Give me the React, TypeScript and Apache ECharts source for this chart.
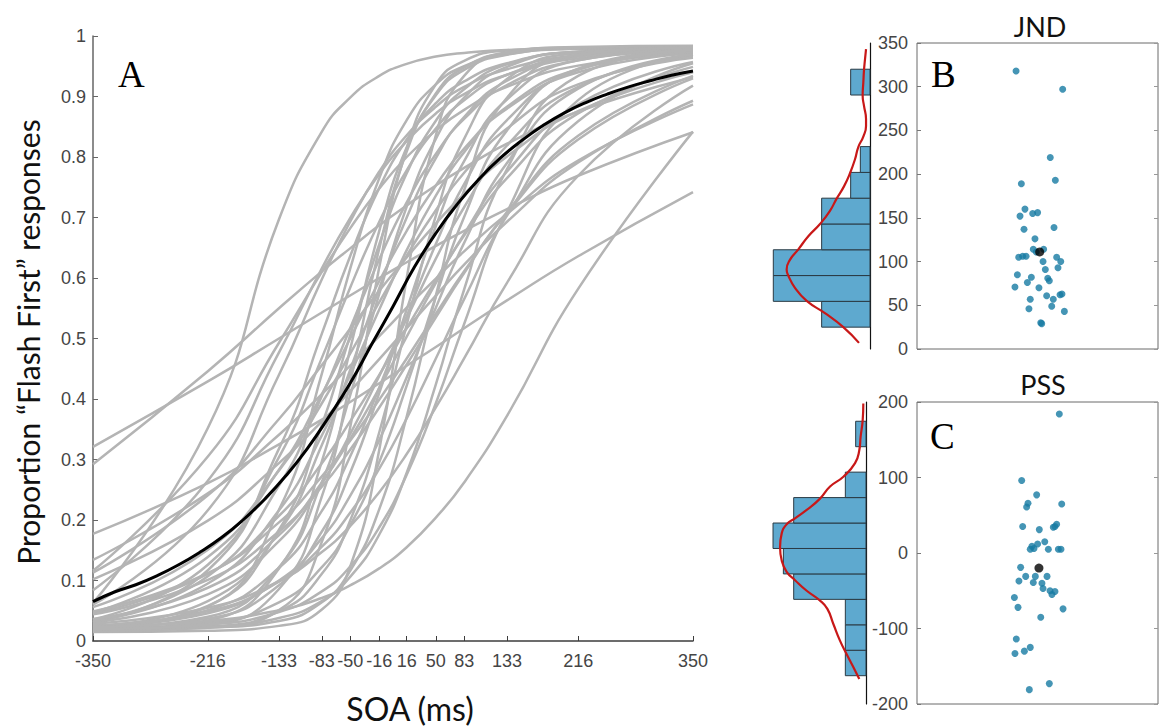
import React, { useEffect, useRef } from "react";
import * as echarts from "echarts";

// Tested stimulus onset asynchronies (ms), also used as the x tick positions
const soaTicks = [-350, -216, -133, -83, -50, -16, 16, 50, 83, 133, 216, 350];

// Fitted proportion of "flash first" responses per participant, at each tested SOA
const participantCurves: number[][] = [
  [0.063, 0.352, 0.697, 0.842, 0.898, 0.934, 0.954, 0.966, 0.972, 0.977, 0.979, 0.98],
  [0.292, 0.446, 0.55, 0.611, 0.649, 0.687, 0.72, 0.753, 0.782, 0.822, 0.875, 0.932],
  [0.321, 0.429, 0.5, 0.543, 0.571, 0.6, 0.626, 0.653, 0.678, 0.714, 0.769, 0.841],
  [0.116, 0.305, 0.493, 0.61, 0.682, 0.748, 0.8, 0.844, 0.878, 0.916, 0.951, 0.972],
  [0.084, 0.265, 0.477, 0.616, 0.699, 0.772, 0.826, 0.872, 0.904, 0.936, 0.963, 0.976],
  [0.06, 0.216, 0.44, 0.598, 0.693, 0.776, 0.836, 0.883, 0.916, 0.945, 0.968, 0.978],
  [0.031, 0.117, 0.318, 0.508, 0.636, 0.749, 0.829, 0.889, 0.925, 0.955, 0.974, 0.979],
  [0.036, 0.126, 0.304, 0.468, 0.584, 0.693, 0.778, 0.847, 0.894, 0.936, 0.967, 0.978],
  [0.022, 0.057, 0.217, 0.442, 0.615, 0.765, 0.861, 0.92, 0.95, 0.97, 0.979, 0.98],
  [0.113, 0.241, 0.367, 0.456, 0.516, 0.579, 0.634, 0.69, 0.739, 0.801, 0.876, 0.94],
  [0.034, 0.107, 0.257, 0.405, 0.517, 0.631, 0.725, 0.805, 0.863, 0.919, 0.96, 0.977],
  [0.023, 0.058, 0.184, 0.357, 0.505, 0.656, 0.773, 0.86, 0.912, 0.953, 0.974, 0.98],
  [0.047, 0.139, 0.283, 0.408, 0.5, 0.595, 0.678, 0.753, 0.814, 0.88, 0.94, 0.971],
  [0.016, 0.034, 0.12, 0.297, 0.482, 0.678, 0.816, 0.902, 0.944, 0.969, 0.979, 0.982],
  [0.056, 0.151, 0.282, 0.393, 0.475, 0.56, 0.637, 0.712, 0.774, 0.847, 0.92, 0.964],
  [0.018, 0.027, 0.086, 0.239, 0.427, 0.649, 0.809, 0.905, 0.948, 0.972, 0.98, 0.983],
  [0.025, 0.066, 0.181, 0.324, 0.448, 0.583, 0.7, 0.798, 0.866, 0.926, 0.966, 0.979],
  [0.017, 0.022, 0.051, 0.164, 0.353, 0.618, 0.814, 0.92, 0.959, 0.976, 0.981, 0.982],
  [0.021, 0.04, 0.122, 0.263, 0.406, 0.574, 0.718, 0.83, 0.898, 0.949, 0.974, 0.98],
  [0.033, 0.095, 0.216, 0.34, 0.44, 0.548, 0.646, 0.736, 0.808, 0.883, 0.945, 0.974],
  [0.134, 0.244, 0.341, 0.408, 0.455, 0.504, 0.551, 0.599, 0.644, 0.706, 0.794, 0.887],
  [0.102, 0.199, 0.294, 0.363, 0.413, 0.466, 0.517, 0.571, 0.622, 0.693, 0.791, 0.893],
  [0.015, 0.017, 0.025, 0.052, 0.123, 0.316, 0.6, 0.836, 0.934, 0.973, 0.982, 0.984],
  [0.022, 0.037, 0.092, 0.181, 0.278, 0.41, 0.548, 0.686, 0.793, 0.895, 0.96, 0.978],
  [0.031, 0.077, 0.165, 0.26, 0.342, 0.438, 0.533, 0.632, 0.717, 0.819, 0.916, 0.967],
  [0.024, 0.051, 0.121, 0.215, 0.305, 0.419, 0.537, 0.656, 0.755, 0.861, 0.944, 0.975],
  [0.046, 0.111, 0.207, 0.294, 0.363, 0.44, 0.517, 0.597, 0.67, 0.765, 0.872, 0.949],
  [0.019, 0.024, 0.049, 0.111, 0.199, 0.345, 0.523, 0.703, 0.83, 0.929, 0.972, 0.981],
  [0.036, 0.088, 0.175, 0.262, 0.334, 0.418, 0.503, 0.592, 0.673, 0.776, 0.887, 0.957],
  [0.049, 0.112, 0.196, 0.272, 0.331, 0.399, 0.467, 0.541, 0.611, 0.707, 0.829, 0.93],
  [0.02, 0.03, 0.064, 0.122, 0.191, 0.296, 0.422, 0.569, 0.701, 0.844, 0.946, 0.977],
  [0.024, 0.046, 0.1, 0.17, 0.24, 0.332, 0.436, 0.551, 0.658, 0.79, 0.913, 0.969],
  [0.044, 0.101, 0.181, 0.255, 0.316, 0.386, 0.457, 0.535, 0.608, 0.709, 0.835, 0.934],
  [0.016, 0.022, 0.033, 0.064, 0.116, 0.218, 0.371, 0.571, 0.745, 0.898, 0.969, 0.981],
  [0.026, 0.049, 0.098, 0.156, 0.212, 0.285, 0.368, 0.467, 0.565, 0.703, 0.859, 0.955],
  [0.177, 0.261, 0.325, 0.366, 0.395, 0.426, 0.455, 0.486, 0.517, 0.563, 0.636, 0.742],
  [0.02, 0.023, 0.038, 0.066, 0.106, 0.176, 0.278, 0.424, 0.581, 0.78, 0.934, 0.977],
  [0.02, 0.027, 0.048, 0.082, 0.123, 0.188, 0.275, 0.393, 0.524, 0.709, 0.894, 0.97],
  [0.029, 0.055, 0.099, 0.147, 0.19, 0.246, 0.309, 0.386, 0.467, 0.592, 0.769, 0.918],
  [0.023, 0.033, 0.051, 0.071, 0.092, 0.12, 0.155, 0.204, 0.262, 0.372, 0.582, 0.842],
];

// Group-level psychometric function
const groupSoa = [
  -350, -325, -300, -275, -250, -225, -200, -175, -150, -125, -100, -75, -50, -25, 0,
  25, 50, 75, 100, 125, 150, 175, 200, 225, 250, 275, 300, 325, 350,
];
const groupCurve = [
  0.065, 0.081, 0.093, 0.108, 0.126, 0.147, 0.171, 0.2, 0.234, 0.273, 0.318, 0.37, 0.426, 0.49, 0.553,
  0.618, 0.674, 0.722, 0.763, 0.798, 0.827, 0.852, 0.873, 0.89, 0.904, 0.916, 0.926, 0.935, 0.942,
];

// Just noticeable difference (ms) per participant, with horizontal jitter
const jndValues = [
  318, 297, 219, 189, 193, 160, 152, 155, 156, 137, 139, 126, 114, 114, 111, 105, 106, 106, 105, 100,
  100, 93, 91, 85, 82, 81, 78, 76, 71, 70, 61, 62, 63, 57, 57, 49, 46, 43, 30, 29,
];
const jndJitter = [
  0.822, 1.209, 1.106, 0.866, 1.148, 0.896, 0.855, 0.96, 1.001, 0.888, 1.137, 0.979, 0.965, 1.051, 0.99,
  0.844, 0.877, 0.905, 1.159, 1.193, 1.046, 1.17, 1.065, 0.833, 0.949, 1.085, 1.098, 0.916, 0.813, 1.012,
  1.076, 1.187, 1.203, 0.94, 1.131, 1.118, 0.929, 1.223, 1.027, 1.035,
];
const jndMean = 111;
const jndMeanX = 1.018;

// Point of subjective simultaneity (ms) per participant, with horizontal jitter
const pssValues = [
  184, 96, 77, 65, 66, 61, 35, 31, 34, 38, 35, 9, 12, 15, 6, 5, 5, 5, 5, -19,
  -31, -31, -31, -37, -39, -40, -47, -50, -51, -55, -59, -72, -74, -85, -114, -133, -130, -125, -173, -181,
];
const pssJitter = [
  1.181, 0.869, 0.993, 1.201, 0.921, 0.91, 0.877, 1.015, 1.131, 1.159, 1.145, 0.954, 1.001, 1.06, 0.971, 1.09,
  1.173, 1.195, 0.94, 0.86, 0.902, 0.982, 1.079, 0.846, 0.965, 1.037, 1.046, 1.104, 1.145, 1.12, 0.808, 0.838,
  1.212, 1.027, 0.824, 0.813, 0.891, 0.94, 1.098, 0.932,
];
const pssMean = -20;
const pssMeanX = 1.012;

// Marginal histograms (bin edges in ms, participant counts) and density estimates
const jndBinEdges = [25, 54.5, 84, 113.5, 143, 172.5, 202, 231.5, 261, 290.5, 320];
const jndBinCounts = [5, 10, 10, 5, 5, 2, 1, 0, 0, 2];
const jndDensityAt = [7, 25, 41, 55, 70, 84, 91, 102, 114, 129, 143, 158, 172, 186, 201, 217, 231, 243, 255, 263, 278, 290, 305, 319, 331, 343];
const jndDensity = [1.14, 2.76, 4.66, 6.55, 7.76, 8.45, 8.62, 8.28, 7.41, 6.38, 5.17, 4.14, 3.45, 2.69, 2.07, 1.55, 1.21, 0.69, 0.41, 0.41, 0.62, 0.76, 0.69, 0.62, 0.52, 0.41];

const pssBinEdges = [-162.5, -128.8, -95.1, -61.4, -27.7, 6, 39.7, 73.4, 107.1, 140.8, 174.5];
const pssBinCounts = [2, 2, 2, 7, 8, 9, 7, 2, 0, 1];
const pssDensityAt = [198, 176, 154, 136, 119, 101, 88, 72, 57, 46, 38, 26, 8, -10, -25, -36, -50, -63, -74, -94, -116, -134, -151, -167];
const pssDensity = [0.26, 0.32, 0.52, 0.65, 1.06, 2.19, 3.48, 4.45, 5.74, 6.87, 7.68, 8.16, 8.32, 8.16, 7.68, 6.87, 5.74, 4.45, 3.74, 3.16, 2.52, 1.87, 1.23, 0.65];

const TICK_FONT = '"Liberation Sans", Arial, sans-serif';
const TITLE_FONT = 'Lato, "Open Sans", sans-serif';
const SERIF_FONT = '"Liberation Serif", "Times New Roman", serif';
const TICK_COLOR = "#454545";
const AXIS_COLOR = "#3c3c3c";
const DOT_COLOR = "#167aa2";
const BAR_COLOR = "#5ea9cf";
const KDE_COLOR = "#c81818";

function histogramRenderer(params: any, api: any) {
  const lo = api.value(0);
  const hi = api.value(1);
  const n = api.value(2);
  if (!n) return { type: "group", children: [] };
  const a = api.coord([0, lo]);
  const b = api.coord([n, hi]);
  return {
    type: "rect",
    shape: {
      x: Math.min(a[0], b[0]),
      y: Math.min(a[1], b[1]),
      width: Math.abs(a[0] - b[0]),
      height: Math.abs(a[1] - b[1]),
    },
    style: { fill: BAR_COLOR, stroke: "#2a3a44", lineWidth: 1 },
  };
}

function binsOf(edges: number[], counts: number[]) {
  return counts.map((c, i) => [edges[i], edges[i + 1], c]);
}

export default function App() {
  const ref = useRef<HTMLDivElement>(null);

  useEffect(() => {
    if (!ref.current) return;
    const chart = echarts.init(ref.current, undefined, { renderer: "svg" });

    const greySeries = participantCurves.map((row) => ({
      type: "line",
      xAxisIndex: 0,
      yAxisIndex: 0,
      data: soaTicks.map((x, i) => [x, row[i]]),
      symbol: "none",
      smooth: 0.5,
      silent: true,
      lineStyle: { color: "#b4b4b4", width: 2.5, join: "round" },
      z: 2,
    }));

    const sideYAxis = (gridIndex: number, min: number, max: number, interval: number) => [
      {
        gridIndex,
        type: "value",
        min,
        max,
        interval,
        position: "left",
        axisLine: { show: false, onZero: false },
        axisTick: { show: true, inside: true, length: 4, lineStyle: { color: "#777" } },
        axisLabel: { color: TICK_COLOR, fontFamily: TICK_FONT, fontSize: 18, margin: 9 },
        splitLine: { show: false },
      },
      {
        gridIndex,
        type: "value",
        min,
        max,
        interval,
        position: "right",
        axisLine: { show: false, onZero: false },
        axisTick: { show: true, inside: true, length: 4, lineStyle: { color: "#999" } },
        axisLabel: { show: false },
        splitLine: { show: false },
      },
    ];

    const histAxis = (gridIndex: number, min: number, max: number) => ({
      gridIndex,
      type: "value",
      min,
      max,
      position: "right",
      axisLine: { show: true, onZero: false, lineStyle: { color: "#111", width: 1.2 } },
      axisTick: { show: false },
      axisLabel: { show: false },
      splitLine: { show: false },
    });

    chart.setOption({
      animation: false,
      backgroundColor: "#ffffff",
      grid: [
        { left: 93, top: 36, width: 600, height: 605 },
        { left: 760, top: 43, width: 110, height: 306 },
        { left: 917, top: 43, width: 241, height: 306, show: true, borderColor: "#6a6a6a", borderWidth: 1 },
        { left: 756, top: 402, width: 110, height: 302 },
        { left: 917, top: 402, width: 241, height: 302, show: true, borderColor: "#6a6a6a", borderWidth: 1 },
      ],
      xAxis: [
        {
          gridIndex: 0,
          type: "value",
          min: -350,
          max: 350,
          axisLine: { show: true, onZero: false, lineStyle: { color: AXIS_COLOR, width: 1.5 } },
          axisTick: { show: true, inside: true, length: 5, customValues: soaTicks, lineStyle: { color: AXIS_COLOR } },
          axisLabel: { customValues: soaTicks, color: TICK_COLOR, fontFamily: TICK_FONT, fontSize: 18, margin: 11 },
          splitLine: { show: false },
        },
        { gridIndex: 1, type: "value", min: 0, max: 110 / 9.67, inverse: true, show: false },
        { gridIndex: 2, type: "value", min: 0, max: 2, show: false },
        { gridIndex: 3, type: "value", min: 0, max: 110 / 10.33, inverse: true, show: false },
        { gridIndex: 4, type: "value", min: 0, max: 2, show: false },
      ],
      yAxis: [
        {
          gridIndex: 0,
          type: "value",
          min: 0,
          max: 1,
          interval: 0.1,
          axisLine: { show: true, onZero: false, lineStyle: { color: "#666", width: 1.5 } },
          axisTick: { show: true, inside: true, length: 5, lineStyle: { color: "#666" } },
          axisLabel: { color: TICK_COLOR, fontFamily: TICK_FONT, fontSize: 18, margin: 7 },
          splitLine: { show: false },
        },
        histAxis(1, 0, 350),
        ...sideYAxis(2, 0, 350, 50),
        histAxis(3, -200, 200),
        ...sideYAxis(4, -200, 200, 100),
      ],
      series: [
        ...greySeries,
        {
          type: "line",
          xAxisIndex: 0,
          yAxisIndex: 0,
          data: groupSoa.map((x, i) => [x, groupCurve[i]]),
          symbol: "none",
          smooth: true,
          silent: true,
          lineStyle: { color: "#000", width: 3 },
          z: 5,
        },
        {
          type: "custom",
          xAxisIndex: 1,
          yAxisIndex: 1,
          renderItem: histogramRenderer,
          encode: { x: 2, y: [0, 1] },
          data: binsOf(jndBinEdges, jndBinCounts),
          silent: true,
          z: 2,
        },
        {
          type: "line",
          xAxisIndex: 1,
          yAxisIndex: 1,
          data: jndDensityAt.map((v, i) => [jndDensity[i], v]),
          symbol: "none",
          smooth: true,
          silent: true,
          lineStyle: { color: KDE_COLOR, width: 2.2 },
          z: 4,
        },
        {
          type: "scatter",
          xAxisIndex: 2,
          yAxisIndex: 2,
          data: jndValues.map((v, i) => [jndJitter[i], v]),
          symbolSize: 7,
          itemStyle: { color: DOT_COLOR },
          silent: true,
          z: 3,
        },
        {
          type: "scatter",
          xAxisIndex: 2,
          yAxisIndex: 2,
          data: [[jndMeanX, jndMean]],
          symbolSize: 9,
          itemStyle: { color: "#000" },
          silent: true,
          z: 4,
        },
        {
          type: "custom",
          xAxisIndex: 3,
          yAxisIndex: 4,
          renderItem: histogramRenderer,
          encode: { x: 2, y: [0, 1] },
          data: binsOf(pssBinEdges, pssBinCounts),
          silent: true,
          z: 2,
        },
        {
          type: "line",
          xAxisIndex: 3,
          yAxisIndex: 4,
          data: pssDensityAt.map((v, i) => [pssDensity[i], v]),
          symbol: "none",
          smooth: true,
          silent: true,
          lineStyle: { color: KDE_COLOR, width: 2.2 },
          z: 4,
        },
        {
          type: "scatter",
          xAxisIndex: 4,
          yAxisIndex: 5,
          data: pssValues.map((v, i) => [pssJitter[i], v]),
          symbolSize: 7,
          itemStyle: { color: DOT_COLOR },
          silent: true,
          z: 3,
        },
        {
          type: "scatter",
          xAxisIndex: 4,
          yAxisIndex: 5,
          data: [[pssMeanX, pssMean]],
          symbolSize: 9,
          itemStyle: { color: "#000" },
          silent: true,
          z: 4,
        },
      ],
      graphic: [
        {
          type: "text",
          x: 28,
          y: 342,
          rotation: Math.PI / 2,
          style: {
            text: "Proportion \u201CFlash First\u201D responses",
            fill: "#111",
            font: `30px ${TITLE_FONT}`,
            align: "center",
            verticalAlign: "middle",
          },
        },
        {
          type: "text",
          x: 410,
          y: 708,
          style: { text: "SOA (ms)", fill: "#111", font: `32px ${TITLE_FONT}`, align: "center", verticalAlign: "middle" },
        },
        {
          type: "text",
          x: 1040,
          y: 26,
          style: { text: "JND", fill: "#111", font: `27px ${TITLE_FONT}`, align: "center", verticalAlign: "middle" },
        },
        {
          type: "text",
          x: 1043,
          y: 384,
          style: { text: "PSS", fill: "#111", font: `27px ${TITLE_FONT}`, align: "center", verticalAlign: "middle" },
        },
        {
          type: "text",
          x: 118,
          y: 74,
          style: { text: "A", fill: "#000", font: `37px ${SERIF_FONT}`, align: "left", verticalAlign: "middle" },
        },
        {
          type: "text",
          x: 931,
          y: 74,
          style: { text: "B", fill: "#000", font: `37px ${SERIF_FONT}`, align: "left", verticalAlign: "middle" },
        },
        {
          type: "text",
          x: 930,
          y: 436,
          style: { text: "C", fill: "#000", font: `37px ${SERIF_FONT}`, align: "left", verticalAlign: "middle" },
        },
      ],
    });

    return () => chart.dispose();
  }, []);

  return (
    <div
      ref={ref}
      style={{ position: "absolute", left: 0, top: 0, width: 1161, height: 727, background: "#fff" }}
    />
  );
}
